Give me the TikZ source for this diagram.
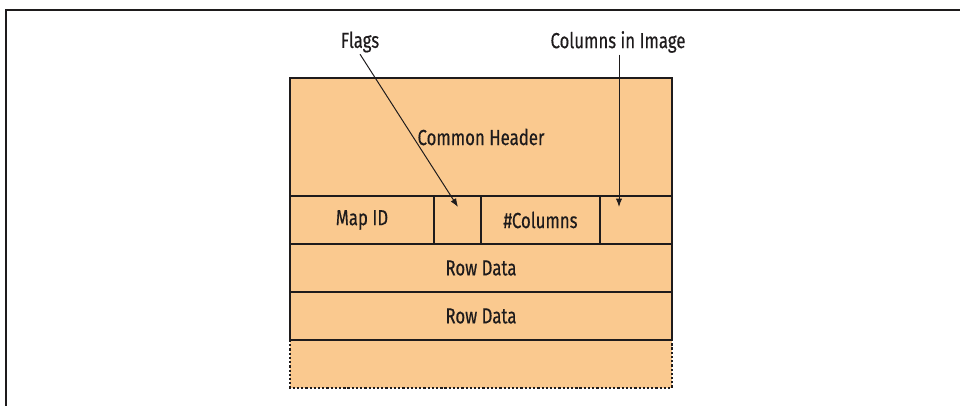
\documentclass[tikz,border=0pt]{standalone}
\usepackage{fontspec}
\setmainfont{Fira Sans}[FakeStretch=0.77, FakeBold=0.4]
\usetikzlibrary{arrows.meta,positioning}
\definecolor{boxfill}{RGB}{250,201,143}
\definecolor{inkgray}{RGB}{30,27,28}

\begin{document}
\begin{tikzpicture}[x=0.025cm, y=-0.025cm,
  cell/.style={draw=inkgray, line width=1.4pt, fill=boxfill, inner sep=0pt, outer sep=0pt,
    minimum height=48*0.025cm, text=inkgray, font=\fontsize{15.5}{18}\selectfont},
  lbl/.style={text=inkgray, inner sep=1pt, font=\fontsize{15.5}{18}\selectfont},
  callout/.style={-{Latex[length=6pt,width=4.5pt]}, line width=0.7pt, draw=inkgray}]

\useasboundingbox (0,0) rectangle (960,406);

 %frame
 \draw[line width=1pt, draw=inkgray] (6,406) -- (6,10) -- (960,10);

 %header and first row
 \node[cell, anchor=north west, minimum width=382*0.025cm, minimum height=118*0.025cm] (header) at (290,78) {Common Header};
 \node[cell, anchor=north west, minimum width=144*0.025cm] (mapid) at (header.south west) {Map ID};
 \node[cell, anchor=west, minimum width=47*0.025cm] (flags) at (mapid.east) {};
 \node[cell, anchor=west, minimum width=119*0.025cm] (ncols) at (flags.east) {\#Columns};
 \node[cell, anchor=west, minimum width=72*0.025cm] (imgcols) at (ncols.east) {};

 %rows
 \node[cell, anchor=north west, minimum width=382*0.025cm] (row1) at (mapid.south west) {Row Data};
 \node[cell, anchor=north west, minimum width=382*0.025cm] (row2) at (row1.south west) {Row Data};
 \node[cell, draw=none, anchor=north west, minimum width=382*0.025cm] (more) at (row2.south west) {};
 \draw[dash pattern=on 1.6pt off 1.4pt, line width=1.7pt, draw=inkgray] (more.north west) -- (more.south west) -- (more.south east) -- (more.north east);
 \draw[line width=1.4pt, draw=inkgray] (more.north west) -- (more.north east);

 %labels
 \node[lbl] (flagslbl) at (360,42) {Flags};
 \node[lbl] (colslbl) at (618,42) {Columns in Image};
 \coordinate (flagsend) at (458,207);
 \coordinate (colsend) at (619,207);

 \draw[callout] (flagslbl.south) -- (flagsend);
 \draw[callout] (colslbl.south -| colsend) -- (colsend);

\end{tikzpicture}
\end{document}
